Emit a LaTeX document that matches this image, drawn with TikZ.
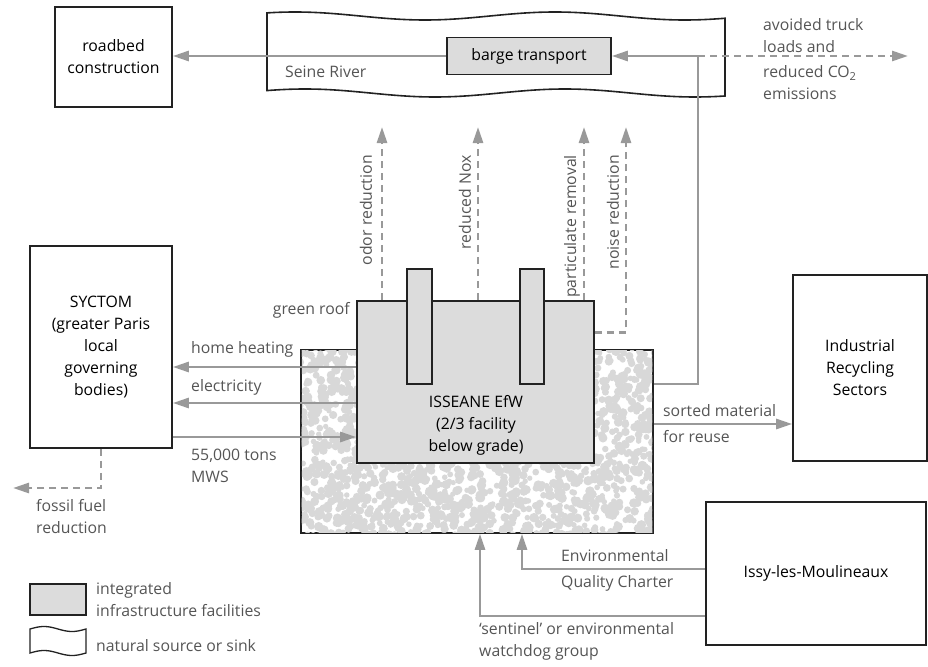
\documentclass[tikz,border=0pt]{standalone}
\usepackage{fontspec}
\setmainfont{Open Sans}
\usetikzlibrary{arrows.meta}
\definecolor{cline}{HTML}{999999}
\definecolor{clbl}{HTML}{555555}
\definecolor{cfac}{HTML}{DCDCDC}
\definecolor{cpeb}{HTML}{D8D8D8}
\definecolor{cedge}{HTML}{222222}
\newcommand{\nfont}{\fontsize{15.8}{22}\selectfont}
\tikzset{
  bbox/.style={draw=cedge, line width=1.6pt, align=center, inner sep=2pt,
               text=black, font=\nfont},
  nfac/.style={bbox, fill=cfac},
  lbl/.style={text=clbl, align=left, inner sep=0pt, font=\nfont},
  flow/.style={draw=cline, line width=2.6pt, -{Triangle[length=16pt,width=10pt]}},
  flowd/.style={flow, dash pattern=on 7pt off 5pt},
  wavy/.style={draw=cedge, line width=1.6pt},
}

\begin{document}
\begin{tikzpicture}[x=1pt, y=-1pt]
  \useasboundingbox (0,0) rectangle (928,666);
  % river
  \draw[wavy] plot[domain=267:725, samples=60, smooth] (\x,{16-4*sin((\x-230)*1.385)})
     -- plot[domain=725:267, samples=60, smooth] (\x,{93-4*sin((\x-240)*1.385)}) -- cycle;
  \node[lbl, anchor=west] (seine) at (285,72) {Seine River};
  \node[nfac, minimum width=164pt, minimum height=37pt] (barge) at (529,56) {barge transport};
  \node[bbox, minimum width=117pt, minimum height=100pt] (roadbed) at (113.5,57) {roadbed\\construction};
  % facility
  \node[bbox, minimum width=352pt, minimum height=183pt] (ground) at (477,441.5) {};
  \begin{scope}
    \clip ([xshift=1.7pt,yshift=-1.7pt]ground.north west) rectangle ([xshift=-1.7pt,yshift=1.7pt]ground.south east);
    \pgfmathsetseed{42}
    \foreach \i in {1,...,2000}
      \fill[cpeb] ({298+358*rnd},{347+189*rnd}) circle[radius={2.6pt+2.2pt*rnd}];
  \end{scope}
  \node[nfac, minimum width=237pt, minimum height=162pt] (isseane) at (475.5,382) {};
  \node[nfac, line width=1.3pt, minimum width=25pt, minimum height=115pt] (stackA) at (419.5,326.5) {};
  \node[nfac, line width=1.3pt, minimum width=24pt, minimum height=115pt] (stackB) at (532,326.5) {};
  \node[inner sep=0pt, align=center, font=\nfont] (isstext) at (476,425) {ISSEANE EfW\\(2/3 facility\\below grade)};
  \node[lbl, anchor=east] (roof) at (350,310) {green roof};
  % partners
  \node[bbox, minimum width=142pt, minimum height=202pt] (syctom) at (101,347)
    {SYCTOM\\(greater Paris\\local\\governing\\bodies)};
  \node[bbox, minimum width=134pt, minimum height=186pt] (industrial) at (860,368)
    {Industrial\\Recycling\\Sectors};
  \node[bbox, minimum width=220pt, minimum height=143pt] (issy) at (816,573.5) {Issy-les-Moulineaux};
  % end points
  \coordinate (turn) at (698,56);
  \coordinate (avoidtip) at (908,56);
  \coordinate (fossiltip) at (13,488);
  \coordinate (odortip) at (382,127);
  \coordinate (noxtip) at (478,127);
  \coordinate (parttip) at (584,127);
  \coordinate (noisetip) at (626,127);
  \coordinate (heatA) at ([yshift=15pt]isseane.west);
  \coordinate (elecA) at ([yshift=-21pt]isseane.west);
  \coordinate (mwsA) at ([yshift=-90pt]syctom.east);
  \coordinate (noiseA) at ([yshift=-32pt]isseane.north east);
  \coordinate (sortA) at ([yshift=17.5pt]ground.east);
  \coordinate (backA) at ([yshift=57.5pt]ground.east);
  \coordinate (eqcA) at ([yshift=4.5pt]issy.west);
  \coordinate (watchA) at ([yshift=-42.5pt]issy.west);
  % flows
  \draw[flow] (barge.west) -- (barge.west -| roadbed.east);
  \draw[flow] (backA) -| (turn) -- (barge.east);
  \draw[flowd] (turn) -- (avoidtip);
  \draw[flow] (heatA) -- (heatA -| syctom.east);
  \draw[flow] (elecA) -- (elecA -| syctom.east);
  \draw[flow] (mwsA) -- (mwsA -| isseane.west);
  \draw[flowd] (syctom.south) |- (fossiltip);
  \draw[flowd] (odortip |- isseane.north) -- (odortip);
  \draw[flowd] (noxtip |- isseane.north) -- (noxtip);
  \draw[flowd] (parttip |- isseane.north) -- (parttip);
  \draw[flowd] (noiseA) -| (noisetip);
  \draw[flow] (sortA) -- (sortA -| industrial.west);
  \draw[flow] (eqcA) -| ([xshift=45pt]ground.south);
  \draw[flow] (watchA) -| ([xshift=3pt]ground.south);
  % labels
  \node[lbl, anchor=west] (avoidup) at (763,36) {avoided truck\\loads and};
  \node[lbl, anchor=west] (avoiddn) at (763,83) {reduced CO\textsubscript{2}\\emissions};
  \node[lbl, rotate=90, anchor=east] (odor) at (366,155) {odor reduction};
  \node[lbl, rotate=90, anchor=east] (nox) at (465,155) {reduced Nox};
  \node[lbl, rotate=90, anchor=east] (part) at (572,155) {particulate removal};
  \node[lbl, rotate=90, anchor=east] (noise) at (613,155) {noise reduction};
  \node[lbl, anchor=west] (heat) at (191,349) {home heating};
  \node[lbl, anchor=west] (elec) at (191,387) {electricity};
  \node[lbl, anchor=west] (mws) at (191,466) {55,000 tons\\MWS};
  \node[lbl, anchor=west] (fossil) at (36,516.5) {fossil fuel\\reduction};
  \node[lbl, anchor=west] (sortup) at (663,411) {sorted material};
  \node[lbl, anchor=west] (sortdn) at (663,437) {for reuse};
  \node[lbl, anchor=west] (equp) at (561,556) {Environmental};
  \node[lbl, anchor=west] (eqdn) at (561,583) {Quality Charter};
  \node[lbl, anchor=west] (watch) at (479,641.5) {`sentinel' or environmental\\watchdog group};
  % legend
  \node[nfac, line width=1.3pt, minimum width=56pt, minimum height=31pt] (legfac) at (58,599.5) {};
  \node[lbl, anchor=west] (legfactext) at (96,599.5) {integrated\\infrastructure facilities};
  \draw[wavy, line width=1.3pt] plot[domain=30:86, samples=30, smooth] (\x,{629-2.5*sin((\x-30)*6.43)})
     -- plot[domain=86:30, samples=30, smooth] (\x,{653-2.5*sin((\x-30)*6.43)}) -- cycle;
  \node[lbl, anchor=west] (legriver) at (96,646) {natural source or sink};
\end{tikzpicture}
\end{document}
